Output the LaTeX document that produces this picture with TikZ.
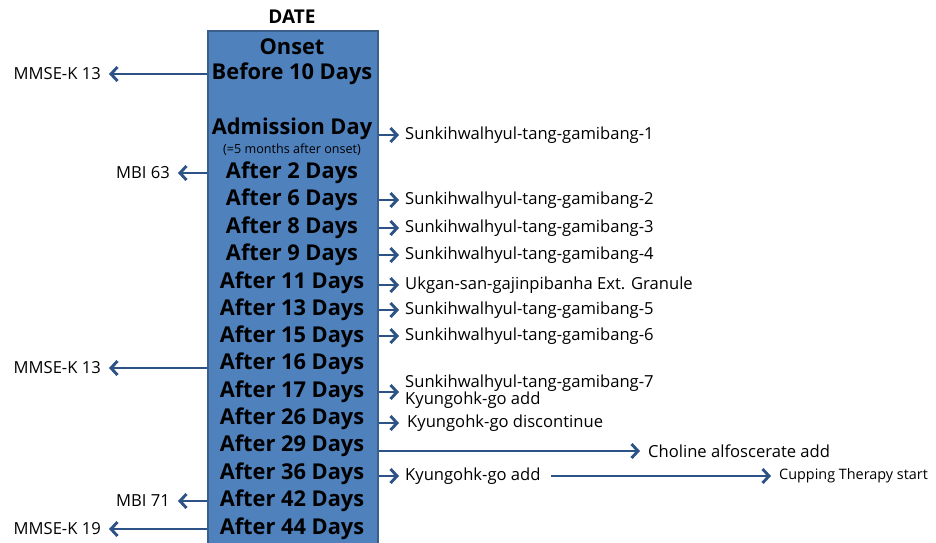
\documentclass[tikz,border=0pt]{standalone}
\usepackage{fontspec}
\setmainfont{Open Sans}
\usetikzlibrary{arrows.meta}
\definecolor{boxfill}{HTML}{4F81BD}
\definecolor{boxline}{HTML}{3A5F8B}
\definecolor{arr}{RGB}{44,82,134}
\begin{document}
\begin{tikzpicture}[x=1pt,y=-1pt,
  rowlab/.style={font=\fontsize{21.8}{23}\selectfont\bfseries, inner sep=0pt, text=black},
  rlab/.style={font=\fontsize{16.6}{18}\selectfont, anchor=west, inner sep=0pt},
  llab/.style={font=\fontsize{16.6}{18}\selectfont, anchor=east, inner sep=0pt},
  conn/.style={draw=arr, line width=2.9pt, -{Straight Barb[length=6.5pt,width=14pt,line width=2.9pt]}}
]
\useasboundingbox (0,0) rectangle (936,542);
\node[draw=boxline, line width=1.5pt, fill=boxfill, minimum width=170pt, minimum height=520pt, inner sep=0pt, anchor=north west] (box) at (207,30) {};
\node[font=\fontsize{19}{21}\selectfont\bfseries, inner sep=0pt] (date) at (292,17) {DATE};
\node[rowlab] (r0) at (292,47) {Onset};
\node[rowlab] (r1) at (292,74) {Before 10 Days};
\node[rowlab] (r2) at (292,129) {Admission Day};
\node[font=\fontsize{12.6}{13}\selectfont, inner sep=0pt] (r2b) at (292,150) {(=5 months after onset)};
\node[rowlab] (r3) at (292,173) {After 2 Days};
\node[rowlab] (r4) at (292,200) {After 6 Days};
\node[rowlab] (r5) at (292,228) {After 8 Days};
\node[rowlab] (r6) at (292,255) {After 9 Days};
\node[rowlab] (r7) at (292,283) {After 11 Days};
\node[rowlab] (r8) at (292,310) {After 13 Days};
\node[rowlab] (r9) at (292,337) {After 15 Days};
\node[rowlab] (r10) at (292,364) {After 16 Days};
\node[rowlab] (r11) at (292,392) {After 17 Days};
\node[rowlab] (r12) at (292,419) {After 26 Days};
\node[rowlab] (r13) at (292,446) {After 29 Days};
\node[rowlab] (r14) at (292,474) {After 36 Days};
\node[rowlab] (r15) at (292,501) {After 42 Days};
\node[rowlab] (r16) at (292,529) {After 44 Days};
% right labels
\node[rlab] (a2) at (405,135) {Sunkihwalhyul-tang-gamibang-1};
\node[rlab] (a4) at (405,200) {Sunkihwalhyul-tang-gamibang-2};
\node[rlab] (a5) at (405,228) {Sunkihwalhyul-tang-gamibang-3};
\node[rlab] (a6) at (405,255) {Sunkihwalhyul-tang-gamibang-4};
\node[rlab] (a7) at (405,285) {Ukgan-san-gajinpibanha Ext. Granule};
\node[rlab] (a8) at (405,310) {Sunkihwalhyul-tang-gamibang-5};
\node[rlab] (a9) at (405,336) {Sunkihwalhyul-tang-gamibang-6};
\node[rlab, align=left] (a11) at (405,392) {Sunkihwalhyul-tang-gamibang-7\\[-1pt]Kyungohk-go add};
\node[rlab] (a12) at (407,423) {Kyungohk-go discontinue};
\node[rlab] (a13) at (648,451) {Choline alfoscerate add};
\node[rlab] (a14) at (405,476) {Kyungohk-go add};
\node[rlab, font=\fontsize{14.4}{16}\selectfont] (a14b) at (779,476) {Cupping Therapy start};
% left labels
\node[llab] (b1) at (101,74) {MMSE-K 13};
\node[llab] (b3) at (170,173) {MBI 63};
\node[llab] (b10) at (101,368) {MMSE-K 13};
\node[llab] (b15) at (170,501) {MBI 71};
\node[llab] (b16) at (101,529) {MMSE-K 19};
% connectors right
\draw[conn] (box.east |- a2) -- ([xshift=-6pt]a2.west);
\draw[conn] (box.east |- a4) -- ([xshift=-6pt]a4.west);
\draw[conn] (box.east |- a5) -- ([xshift=-6pt]a5.west);
\draw[conn] (box.east |- a6) -- ([xshift=-6pt]a6.west);
\draw[conn] (box.east |- a7) -- ([xshift=-6pt]a7.west);
\draw[conn] (box.east |- a8) -- ([xshift=-6pt]a8.west);
\draw[conn] (box.east |- a9) -- ([xshift=-6pt]a9.west);
\draw[conn] (box.east |- a11) -- ([xshift=-6pt]a11.west);
\draw[conn] (box.east |- a12) -- ([xshift=-8pt]a12.west);
\draw[conn] (box.east |- a13) -- ([xshift=-8pt]a13.west);
\draw[conn] (box.east |- a14) -- ([xshift=-6pt]a14.west);
\draw[conn] ([xshift=10pt]a14.east) -- ([xshift=-8pt]a14b.west);
% connectors left
\draw[conn] (box.west |- b1) -- ([xshift=8pt]b1.east);
\draw[conn] (box.west |- b3) -- ([xshift=8pt]b3.east);
\draw[conn] (box.west |- b10) -- ([xshift=8pt]b10.east);
\draw[conn] (box.west |- b15) -- ([xshift=8pt]b15.east);
\draw[conn] (box.west |- b16) -- ([xshift=8pt]b16.east);
\end{tikzpicture}
\end{document}
